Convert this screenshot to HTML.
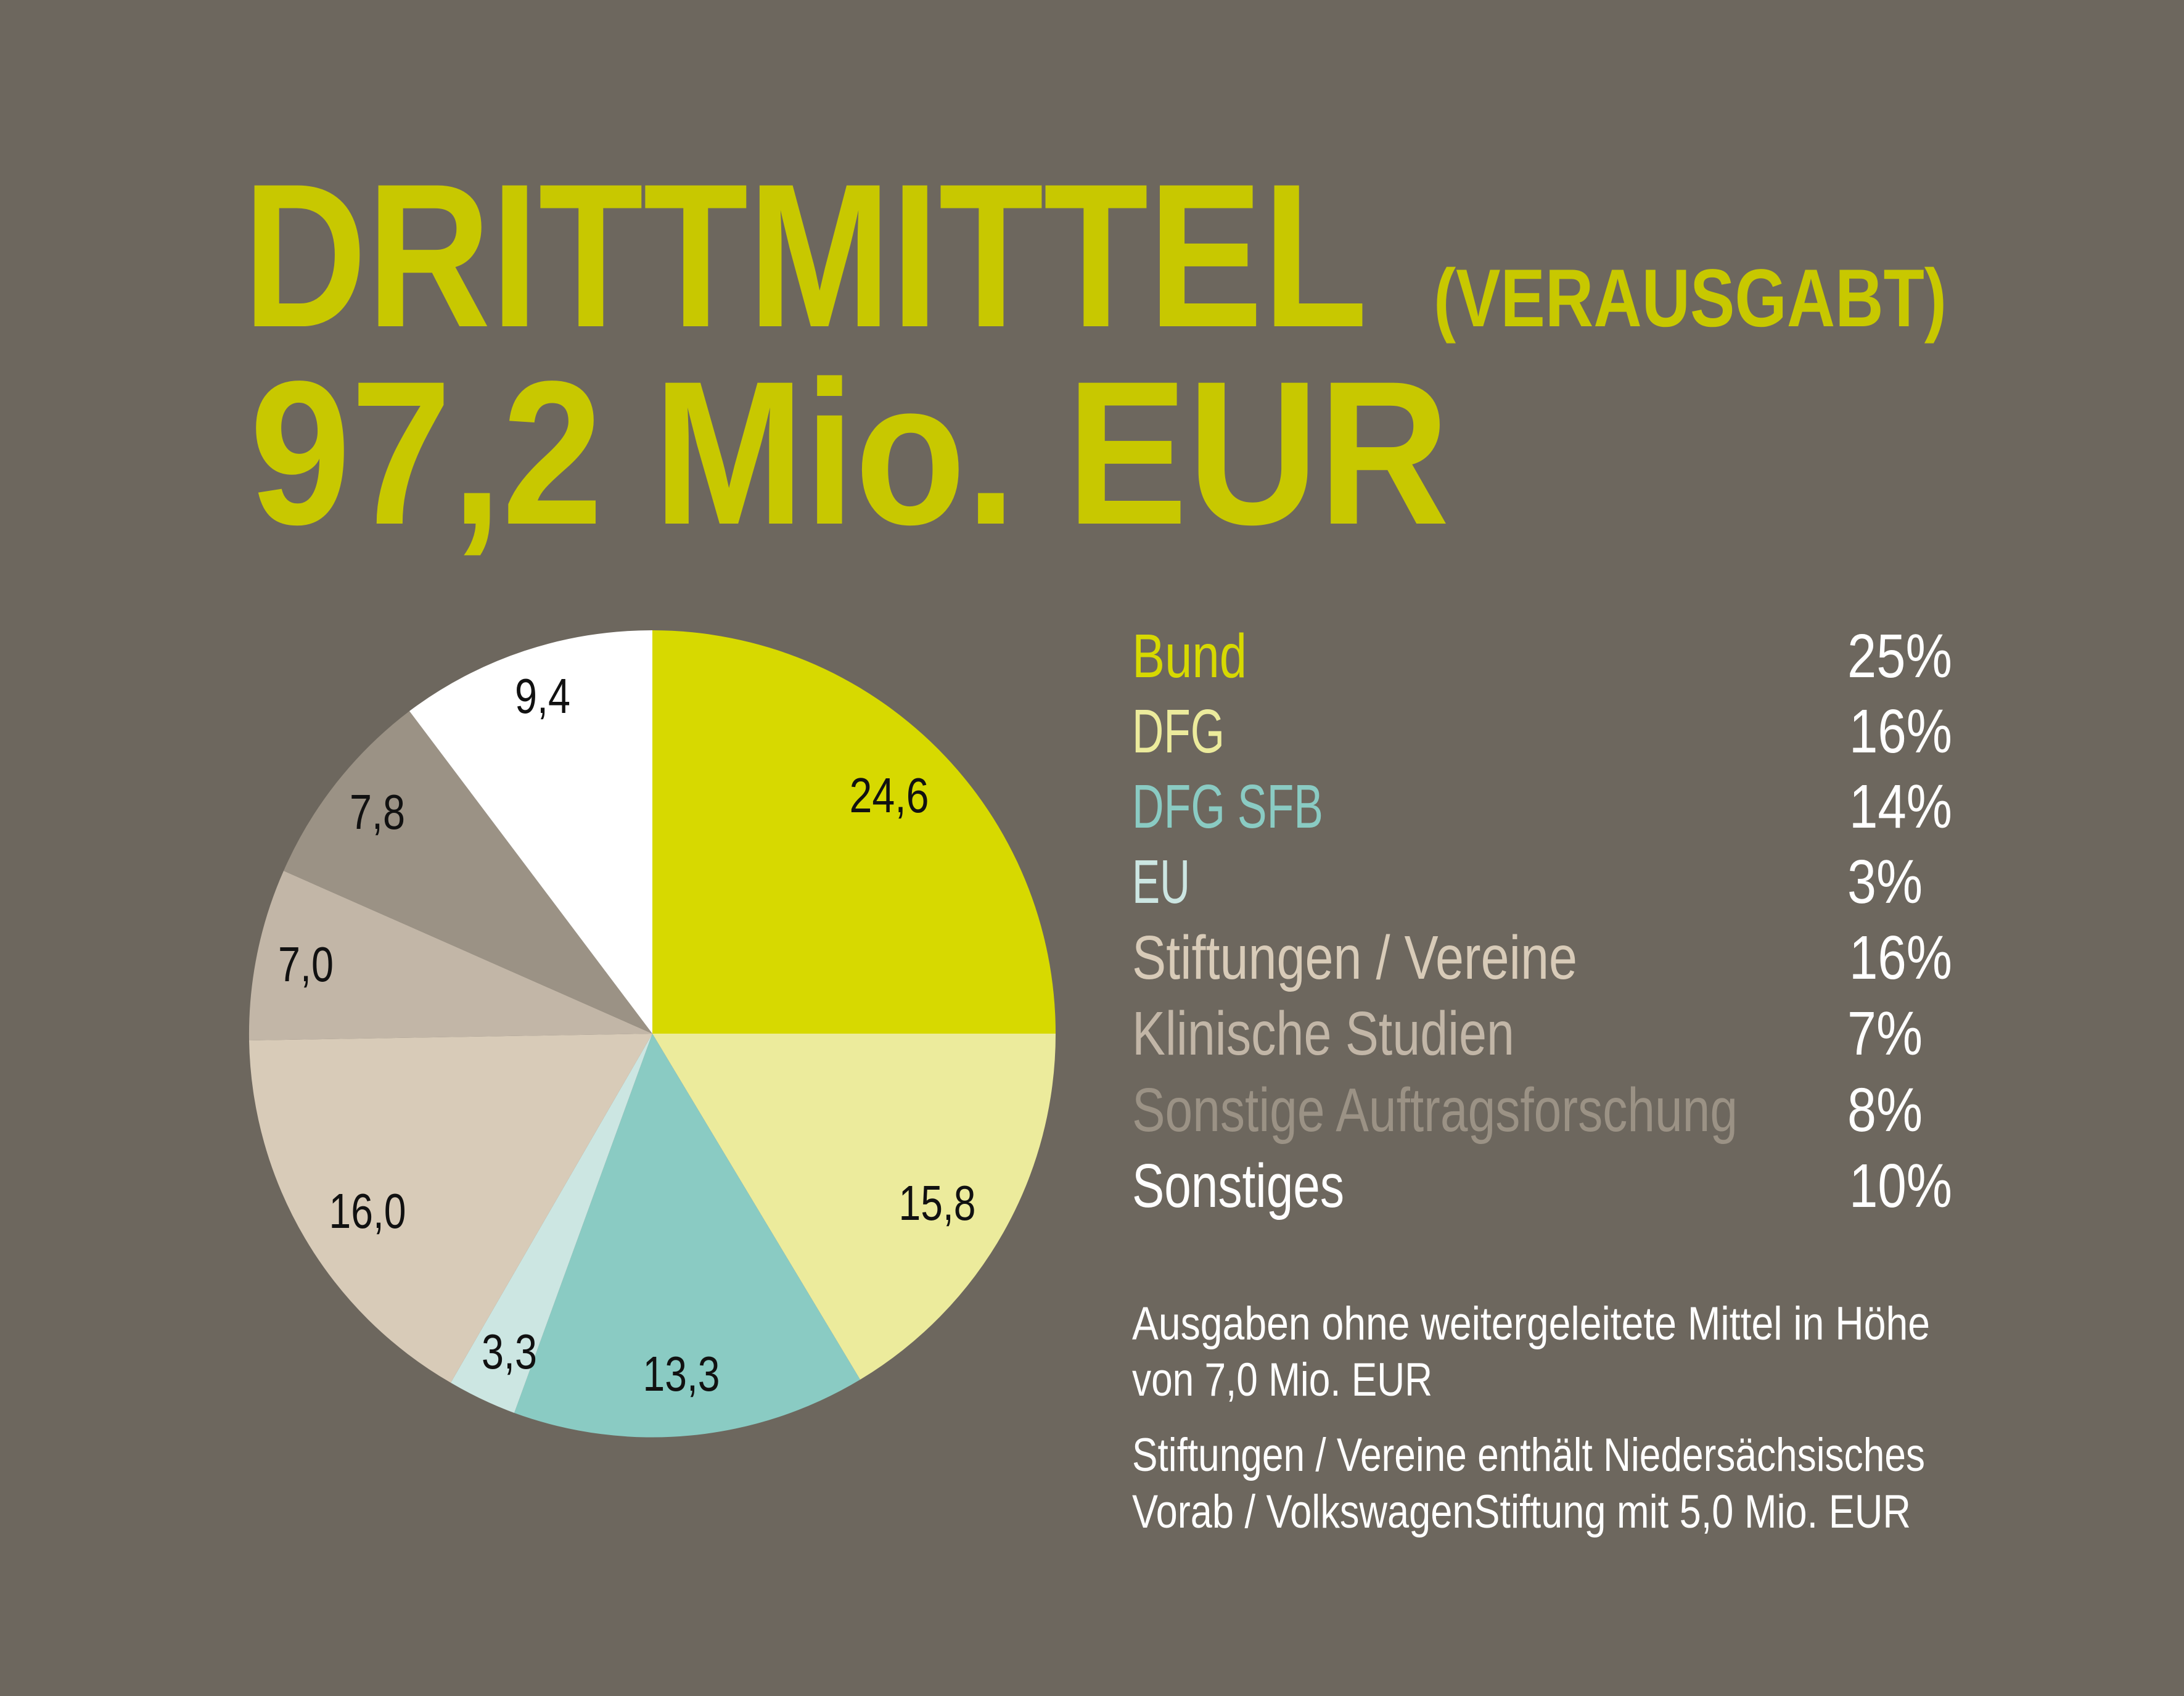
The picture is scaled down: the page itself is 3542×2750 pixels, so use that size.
<!DOCTYPE html>
<html><head><meta charset="utf-8"><style>html,body{margin:0;padding:0;background:#6d675e}svg{display:block}</style></head>
<body>
<svg width="3542" height="2750" viewBox="0 0 3542 2750" xmlns="http://www.w3.org/2000/svg">
<rect width="3542" height="2750" fill="#6d675e"/>
<g font-family="'Liberation Sans', sans-serif" font-weight="bold" fill="#c8c800">
<text x="394" y="529" font-size="332" textLength="1824" lengthAdjust="spacingAndGlyphs">DRITTMITTEL</text>
<text x="2325" y="529" font-size="133" textLength="832" lengthAdjust="spacingAndGlyphs">(VERAUSGABT)</text>
<text x="405" y="849" font-size="332" textLength="1946" lengthAdjust="spacingAndGlyphs">97,2 Mio. EUR</text>
</g>
<g>
<path d="M1058,1676 L1058,1022 A654,654 0 0 1 1712,1676 Z" fill="#d7d900"/>
<path d="M1058,1676 L1712,1676 A654,654 0 0 1 1395,2237 Z" fill="#eceb9c"/>
<path d="M1058,1676 L1395,2237 A654,654 0 0 1 834,2291 Z" fill="#8acbc3"/>
<path d="M1058,1676 L834,2291 A654,654 0 0 1 731,2242 Z" fill="#cce6e2"/>
<path d="M1058,1676 L731,2242 A654,654 0 0 1 404,1687 Z" fill="#d8cbb8"/>
<path d="M1058,1676 L404,1687 A654,654 0 0 1 460,1412 Z" fill="#c2b6a7"/>
<path d="M1058,1676 L460,1412 A654,654 0 0 1 664,1153 Z" fill="#9b9285"/>
<path d="M1058,1676 L664,1153 A654,654 0 0 1 1058,1022 Z" fill="#ffffff"/>
</g>
<g font-family="'Liberation Sans Narrow','Liberation Sans', sans-serif" font-size="80" fill="#111" text-anchor="middle">
<text x="1442" y="1317" textLength="129" lengthAdjust="spacingAndGlyphs">24,6</text>
<text x="1520" y="1978" textLength="125" lengthAdjust="spacingAndGlyphs">15,8</text>
<text x="1105" y="2255" textLength="125" lengthAdjust="spacingAndGlyphs">13,3</text>
<text x="826" y="2219" textLength="90" lengthAdjust="spacingAndGlyphs">3,3</text>
<text x="596" y="1991" textLength="125" lengthAdjust="spacingAndGlyphs">16,0</text>
<text x="496" y="1591" textLength="90" lengthAdjust="spacingAndGlyphs">7,0</text>
<text x="612" y="1344" textLength="90" lengthAdjust="spacingAndGlyphs">7,8</text>
<text x="880" y="1156" textLength="90" lengthAdjust="spacingAndGlyphs">9,4</text>
</g>
<g font-family="'Liberation Sans Narrow','Liberation Sans', sans-serif" font-size="100">
<text x="1836" y="1098" fill="#d7d900" textLength="186" lengthAdjust="spacingAndGlyphs">Bund</text>
<text x="1836" y="1220" fill="#eceb9c" textLength="150" lengthAdjust="spacingAndGlyphs">DFG</text>
<text x="1836" y="1342" fill="#8acbc3" textLength="310" lengthAdjust="spacingAndGlyphs">DFG SFB</text>
<text x="1836" y="1464" fill="#cce6e2" textLength="94" lengthAdjust="spacingAndGlyphs">EU</text>
<text x="1836" y="1587" fill="#d8cbb8" textLength="722" lengthAdjust="spacingAndGlyphs">Stiftungen / Vereine</text>
<text x="1836" y="1710" fill="#c2b6a7" textLength="620" lengthAdjust="spacingAndGlyphs">Klinische Studien</text>
<text x="1836" y="1834" fill="#9b9285" textLength="982" lengthAdjust="spacingAndGlyphs">Sonstige Auftragsforschung</text>
<text x="1836" y="1957" fill="#ffffff" textLength="344" lengthAdjust="spacingAndGlyphs">Sonstiges</text>
</g>
<g font-family="'Liberation Sans Narrow','Liberation Sans', sans-serif" font-size="100" fill="#fff">
<text x="2996" y="1098" textLength="170" lengthAdjust="spacingAndGlyphs">25%</text>
<text x="2999" y="1220" textLength="167" lengthAdjust="spacingAndGlyphs">16%</text>
<text x="2999" y="1342" textLength="167" lengthAdjust="spacingAndGlyphs">14%</text>
<text x="2996" y="1464" textLength="122" lengthAdjust="spacingAndGlyphs">3%</text>
<text x="2999" y="1587" textLength="167" lengthAdjust="spacingAndGlyphs">16%</text>
<text x="2996" y="1710" textLength="122" lengthAdjust="spacingAndGlyphs">7%</text>
<text x="2996" y="1834" textLength="122" lengthAdjust="spacingAndGlyphs">8%</text>
<text x="2999" y="1957" textLength="167" lengthAdjust="spacingAndGlyphs">10%</text>
</g>
<g font-family="'Liberation Sans Narrow','Liberation Sans', sans-serif" font-size="76" fill="#fff">
<text x="1836" y="2172" textLength="1294" lengthAdjust="spacingAndGlyphs">Ausgaben ohne weitergeleitete Mittel in Höhe</text>
<text x="1836" y="2263" textLength="487" lengthAdjust="spacingAndGlyphs">von 7,0 Mio. EUR</text>
<text x="1836" y="2385" textLength="1286" lengthAdjust="spacingAndGlyphs">Stiftungen / Vereine enthält Niedersächsisches</text>
<text x="1836" y="2477" textLength="1263" lengthAdjust="spacingAndGlyphs">Vorab / VolkswagenStiftung mit 5,0 Mio. EUR</text>
</g>
</svg>
</body></html>
